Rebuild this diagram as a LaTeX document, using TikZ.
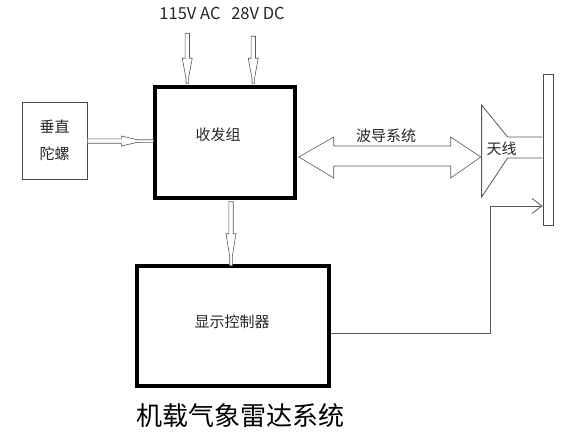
\documentclass[tikz,border=0pt]{standalone}
\usepackage{fontspec}
\setmainfont{Noto Sans CJK SC}
\usetikzlibrary{calc,arrows.meta}
\newcommand\hollowarrow[5]{%
  \begin{scope}[shift={(#1)},rotate=#2]
    \draw[hol] (0,-2.2) -- (#4,-2.2) -- (#4,-5) -- (#5,-1.3) -- (#3,-1.3) -- (#3,1.3) -- (#5,1.3) -- (#4,5) -- (#4,2.2) -- (0,2.2) -- cycle;
  \end{scope}}
\begin{document}
\begin{tikzpicture}[x=1pt,y=-1pt]
\tikzset{
  bigbox/.style={draw=black, line width=3.5pt, inner sep=0pt},
  thinbox/.style={draw=black!70, line width=0.8pt, inner sep=0pt},
  lbl/.style={text=black!85, font=\fontsize{15}{17}\selectfont, inner sep=0pt},
  hol/.style={draw=black!65, line width=0.6pt, fill=white},
  wire/.style={draw=black!65, line width=0.8pt},
}
\useasboundingbox (0,0) rectangle (562,436);
% boxes
\node[bigbox, minimum width=140pt, minimum height=111pt] (trx) at (225,142.5) {};
\node[bigbox, minimum width=192pt, minimum height=120pt] (disp) at (233,326) {};
\node[thinbox, minimum width=65pt, minimum height=77pt] (gyro) at (54.5,140.5) {};
\node[thinbox, minimum width=10pt, minimum height=151pt] (bar) at (548,149.5) {};
% labels
\node[lbl] (trxl) at (218,135) {收发组};
\node[lbl] (displ) at (232,322) {显示控制器};
\node[lbl] (gyrol1) at (54.5,127) {垂直};
\node[lbl] (gyrol2) at (54.5,154) {陀螺};
\node[lbl, font=\fontsize{16.5}{18}\selectfont] (ac) at (190,13) {115V AC};
\node[lbl, font=\fontsize{16.5}{18}\selectfont] (dc) at (258,13) {28V DC};
\node[text=black, font=\fontsize{26}{28}\selectfont, inner sep=0pt] (title) at (240,416) {机载气象雷达系统};
% horn antenna
\coordinate (ht) at ($(bar.west)+(0,-12.5)$);
\coordinate (hb) at ($(bar.west)+(0,8.5)$);
\draw[wire] (ht) -- ++(-35,0) -- ++(-26,-32) -- ++(0,92) -- ++(26,-39) -- (hb);
\node[lbl] (wg) at (386,136) {波导系统};
\node[lbl] (ant) at (501.5,149) {天线};
% waveguide double arrow
\coordinate (wl) at ($(trx.east)+(2,14.5)$);
\coordinate (wr) at ($(wl)+(182,0)$);
\draw[hol] (wl) -- ($(wl)+(35,-20)$) -- ($(wl)+(35,-11)$) -- ($(wr)+(-30,-11)$) -- ($(wr)+(-30,-20)$) -- (wr)
  -- ($(wr)+(-30,21)$) -- ($(wr)+(-30,9)$) -- ($(wl)+(35,9)$) -- ($(wl)+(35,21)$) -- cycle;
% hollow arrows
\coordinate (acs) at ($(trx.north west)+(34,-52)$);
\coordinate (dcs) at ($(trx.north west)+(100,-49)$);
\coordinate (gs) at ($(gyro.east)+(0,0.5)$);
\coordinate (ds) at ($(trx.south)+(6,2)$);
\hollowarrow{acs}{-90}{50}{25}{45}
\hollowarrow{dcs}{-90}{47}{22}{42}
\hollowarrow{gs}{0}{66}{34}{50}
\hollowarrow{ds}{-90}{64}{32}{55}
% feedback line
\coordinate (fk) at (490,206);
\draw[wire,-{Straight Barb[length=10pt,width=15pt]}] ($(disp.east)+(0,7)$) -| (fk) -- (fk -| bar.west);
\end{tikzpicture}
\end{document}
